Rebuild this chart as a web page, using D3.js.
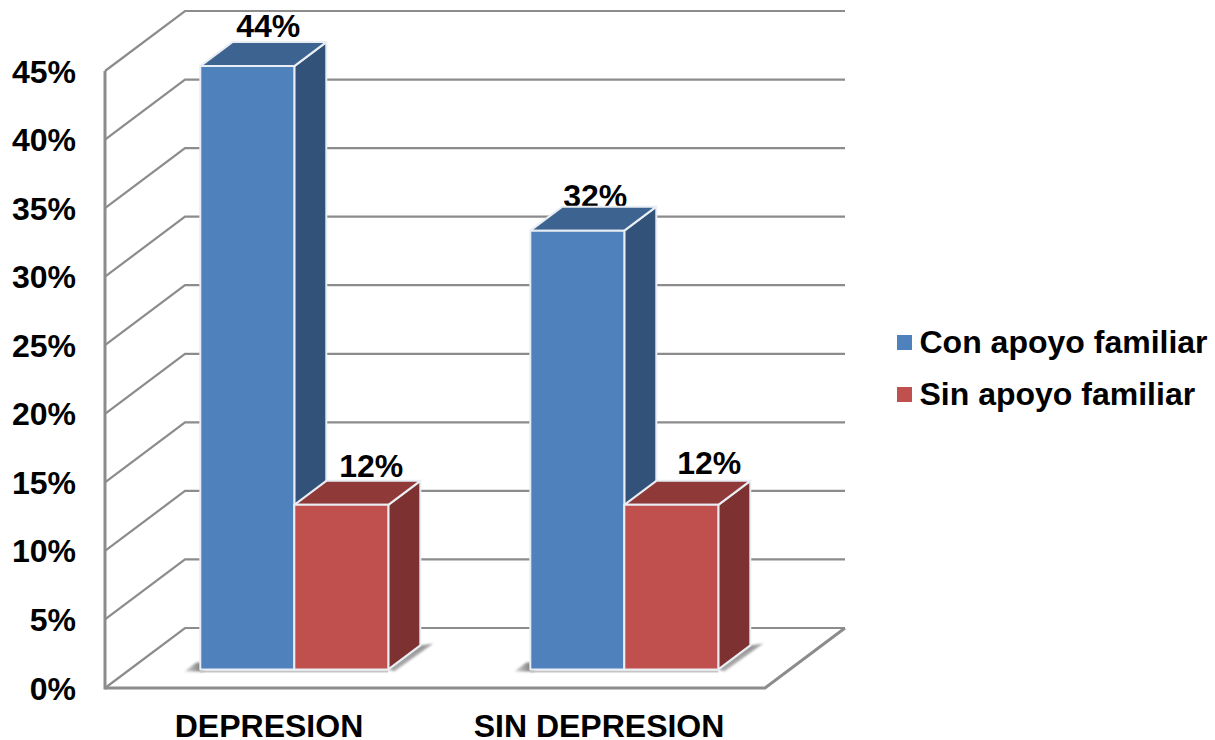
<!DOCTYPE html>
<html>
<head>
<meta charset="utf-8">
<style>
  html, body { margin: 0; padding: 0; background: #fff; }
  svg { display: block; }
  text { font-family: "Liberation Sans", Arial, sans-serif; font-weight: bold; fill: #000; }
</style>
</head>
<body>
<svg width="1215" height="740"></svg>
<script src="https://cdn.jsdelivr.net/npm/d3@7"></script>
<script>
const categories = ["DEPRESION", "SIN DEPRESION"];
const seriesNames = ["Con apoyo familiar", "Sin apoyo familiar"];
const conApoyo = [44, 32];
const sinApoyo = [12, 12];
const yTicks = [0, 5, 10, 15, 20, 25, 30, 35, 40, 45];

const faces = [
  { front: "#4f81bd", top: "#3d6490", side: "#32527a" },
  { front: "#c0504d", top: "#8f3a38", side: "#7d3231" }
];

const svg = d3.select("svg");

// front plane of the box
const x0 = d3.scaleBand().domain(categories).range([105, 765]);
const x1 = d3.scaleBand().domain(seriesNames).range([0, 188]);
const y = d3.scaleLinear().domain([0, 45]).range([688, 71]);

// depth goes up and to the right, 0 = front edge, 1 = back wall
const depthX = 80, depthY = -60;
const barNear = 0.31, barFar = 0.71;
function project(px, value, t) {
  return [px + t * depthX, y(value) + t * depthY];
}
function poly(points) {
  return points.map(p => p.join(",")).join(" ");
}
function groupStart(cat) {
  return x0(cat) + (x0.bandwidth() - x1.range()[1]) / 2 - 0.5;
}

const defs = svg.append("defs");
defs.append("filter").attr("id", "soft")
  .attr("x", "-30%").attr("y", "-30%").attr("width", "160%").attr("height", "160%")
  .append("feGaussianBlur").attr("stdDeviation", 1.2);

// shadows fade out away from the bars
const fadeRight = defs.append("linearGradient").attr("id", "fadeRight")
  .attr("x1", 0.2).attr("y1", 0.2).attr("x2", 0.75).attr("y2", 0.75);
fadeRight.append("stop").attr("offset", 0).attr("stop-color", "#5a5a5a");
fadeRight.append("stop").attr("offset", 1).attr("stop-color", "#e4e4e4");
const fadeLeft = defs.append("linearGradient").attr("id", "fadeLeft")
  .attr("x1", 1).attr("y1", 0).attr("x2", 0).attr("y2", 0);
fadeLeft.append("stop").attr("offset", 0).attr("stop-color", "#6a6a6a");
fadeLeft.append("stop").attr("offset", 1).attr("stop-color", "#dcdcdc");

const left = x0.range()[0], right = x0.range()[1];
const grid = svg.append("g").attr("fill", "none").attr("stroke", "#8c8c8c").attr("stroke-width", 2.2);

// back wall and side wall lines
yTicks.forEach(function(t) {
  grid.append("polyline")
    .attr("points", poly([project(left, t, 0), project(left, t, 1), project(right, t, 1)]));
});

// floor edges and left axis
grid.append("polyline")
  .attr("points", poly([project(right, 0, 1), project(right, 0, 0), project(left, 0, 0)]))
  .attr("stroke-width", 3);
grid.append("line")
  .attr("x1", left).attr("x2", left)
  .attr("y1", y(45)).attr("y2", y(0) + 1.5)
  .attr("stroke-width", 3);

// value labels go under the bars, the 32% one tucks behind its top face
const labelNudge = [[[21, -29], [30, -28]], [[18, -24], [38, -31]]];
const labels = svg.append("g");
categories.forEach(function(cat, i) {
  [conApoyo, sinApoyo].forEach(function(values, s) {
    const p = project(groupStart(cat) + x1(seriesNames[s]) + x1.bandwidth() / 2, values[i], barNear);
    labels.append("text")
      .attr("x", p[0] + labelNudge[i][s][0])
      .attr("y", p[1] + labelNudge[i][s][1])
      .attr("text-anchor", "middle")
      .style("font-size", "32px")
      .text(values[i] + "%");
  });
});

const bars = svg.append("g");

categories.forEach(function(cat, i) {
  const start = groupStart(cat), end = start + x1.range()[1];
  const baseY = project(start, 0, barNear)[1];
  const nearX = project(start, 0, barNear)[0];

  // contact shadows: left of the base, under it, and along the right side
  bars.append("polygon")
    .attr("points", poly([[nearX - 16, baseY + 2], [nearX - 4, baseY - 7], [nearX + 4, baseY - 7], [nearX + 4, baseY + 2]]))
    .attr("fill", "url(#fadeLeft)").attr("filter", "url(#soft)");
  bars.append("line")
    .attr("x1", nearX).attr("x2", end + barNear * depthX)
    .attr("y1", baseY + 2).attr("y2", baseY + 2)
    .attr("stroke", "#c4c4c4").attr("stroke-width", 2);
  bars.append("polygon")
    .attr("points", poly([
      project(end, 0, barNear),
      project(end, 0, barFar),
      [end + barFar * depthX + 13, baseY + (barFar - barNear) * depthY - 2],
      [end + barNear * depthX + 6, baseY + 2]
    ]))
    .attr("fill", "url(#fadeRight)").attr("filter", "url(#soft)");

  [conApoyo, sinApoyo].forEach(function(values, s) {
    const v = values[i];
    const bx = start + x1(seriesNames[s]);
    const w = x1.bandwidth();
    const g = bars.append("g").attr("stroke", "#e9eef5").attr("stroke-width", 2).attr("stroke-linejoin", "round");

    g.append("polygon")
      .attr("points", poly([project(bx + w, 0, barNear), project(bx + w, 0, barFar), project(bx + w, v, barFar), project(bx + w, v, barNear)]))
      .attr("fill", faces[s].side);
    g.append("polygon")
      .attr("points", poly([project(bx, v, barNear), project(bx + w, v, barNear), project(bx + w, v, barFar), project(bx, v, barFar)]))
      .attr("fill", faces[s].top);
    g.append("polygon")
      .attr("points", poly([project(bx, 0, barNear), project(bx + w, 0, barNear), project(bx + w, v, barNear), project(bx, v, barNear)]))
      .attr("fill", faces[s].front);
  });
});

// y tick labels
svg.append("g").selectAll("text")
  .data(yTicks)
  .enter().append("text")
  .attr("x", 76)
  .attr("y", d => y(d) + 11.5)
  .attr("text-anchor", "end")
  .style("font-size", "32px")
  .text(d => d + "%");

// category labels
svg.append("g").selectAll("text")
  .data(categories)
  .enter().append("text")
  .attr("x", d => x0(d) + x0.bandwidth() / 2 - 1)
  .attr("y", 737)
  .attr("text-anchor", "middle")
  .style("font-size", "32px")
  .text(d => d);

// legend
const legend = svg.append("g").selectAll("g")
  .data(seriesNames)
  .enter().append("g")
  .attr("transform", (d, i) => "translate(897," + (335 + i * 52) + ")");
legend.append("rect")
  .attr("width", 15).attr("height", 15)
  .attr("fill", (d, i) => faces[i].front);
legend.append("text")
  .attr("x", 22.5).attr("y", 18)
  .style("font-size", "32px")
  .text(d => d);
</script>
</body>
</html>
